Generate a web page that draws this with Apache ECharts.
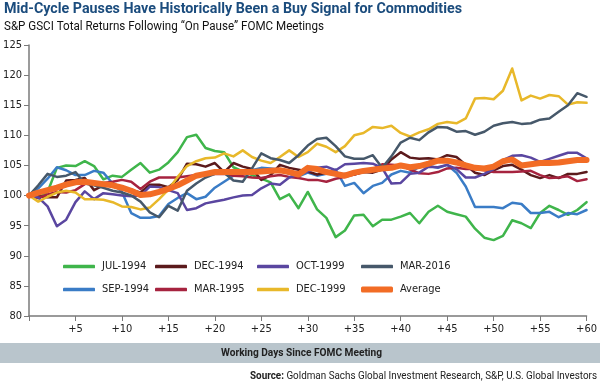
<!DOCTYPE html>
<html><head><meta charset="utf-8">
<script src="https://cdn.jsdelivr.net/npm/echarts@6/dist/echarts.min.js"></script>
<style>html,body{margin:0;padding:0;background:#fff}#c{width:600px;height:385px}</style>
</head><body><div id="c"></div>
<script>
const days = [0,1,2,3,4,5,6,7,8,9,10,11,12,13,14,15,16,17,18,19,20,21,22,23,24,25,26,27,28,29,30,31,32,33,34,35,36,37,38,39,40,41,42,43,44,45,46,47,48,49,50,51,52,53,54,55,56,57,58,59,60];
const xTicks = [5,10,15,20,25,30,35,40,45,50,55,60];
const yTicks = [80,85,90,95,100,105,110,115,120,125];

const jul1994 = [100,99.6,100.6,104.6,105.0,104.9,105.7,104.9,102.7,103.3,103.1,104.3,105.4,103.8,104.3,105.5,107.2,109.7,110.1,107.9,107.4,
  107.2,104.7,104.0,103.4,102.8,102.2,99.4,100.2,97.9,100.6,97.7,96.3,93.1,94.2,96.7,96.8,94.9,96.0,96.0,96.5,
  97.1,95.4,97.3,98.3,97.3,96.9,96.5,94.5,93.0,92.6,93.3,95.9,95.4,94.6,97.1,98.3,97.6,96.8,97.6,98.9];
const sep1994 = [100,101.2,102.8,104.7,104.2,103.4,103.4,104.1,103.8,102.0,100.6,97.1,96.3,96.3,96.6,98.6,99.6,100.4,99.4,99.8,101.3,
  102.3,103.3,103.7,104.2,104.6,104.5,104.3,103.6,103.2,103.8,103.3,103.6,104.3,101.6,102.1,100.4,101.6,102.1,103.5,104.1,
  103.8,104.8,104.9,104.6,105.1,103.8,101.5,98.1,98.1,98.1,97.9,98.8,98.6,97.1,97.1,97.3,96.4,97.1,96.9,97.6];
const dec1994 = [100,99.9,99.7,99.7,102.5,102.6,102.9,100.9,101.7,102.0,101.3,100.9,100.5,101.8,101.8,101.4,102.6,105.3,105.2,104.8,105.4,
  103.9,105.4,104.8,104.4,102.6,103.4,105.1,104.6,104.3,104.0,103.5,103.8,103.4,103.6,103.5,103.9,103.8,104.3,106.0,107.2,
  106.3,106.1,106.2,106.0,106.7,106.4,105.1,103.8,103.4,104.2,104.9,105.1,104.3,103.4,102.9,103.4,102.9,103.6,103.6,103.9];
const mar1995 = [100,99.6,100.2,100.6,100.5,100.9,101.9,102.2,102.1,102.3,102.6,102.3,101.1,102.3,103.0,103.0,103.0,103.2,103.4,103.5,103.6,
  103.6,103.3,103.2,103.0,102.9,103.2,103.4,103.1,102.9,102.6,102.6,102.3,102.8,103.1,103.5,104.0,104.4,105.2,105.1,105.0,
  104.3,103.7,103.6,103.9,104.5,104.6,104.4,104.4,104.2,103.9,103.9,103.9,104.0,104.1,103.4,102.9,103.0,103.2,102.4,102.7];
const oct1999 = [100,99.7,98.2,94.9,96.0,98.9,100.7,99.4,100.4,100.2,100.0,99.9,100.0,101.5,101.4,100.9,100.4,97.6,97.9,98.7,99.0,
  99.3,99.7,100.0,100.1,101.2,102.0,101.8,103.0,103.5,104.0,104.6,104.8,104.2,105.2,105.3,105.4,105.3,104.6,102.0,102.1,
  103.6,103.8,104.8,104.7,105.1,104.4,103.0,103.0,103.6,104.4,105.9,106.6,106.7,106.3,105.6,106.1,106.6,107.1,107.1,106.2];
const dec1999 = [100,99.0,99.8,100.5,100.8,100.5,99.4,99.4,99.3,98.9,98.2,98.1,97.7,98.0,99.4,101.0,103.1,104.9,105.7,106.2,106.3,
  107.0,106.5,107.5,106.4,105.8,105.4,106.4,107.5,106.4,107.2,108.6,108.1,107.2,108.2,110.0,110.4,111.4,111.2,111.6,110.4,
  109.8,110.5,111.0,111.9,112.2,112.0,112.8,116.1,116.2,116.0,117.4,121.1,115.8,116.6,116.1,116.7,116.5,115.1,115.5,115.4];
const mar2016 = [100,101.7,103.6,103.1,103.3,103.9,102.0,101.7,101.3,100.8,100.5,100.0,99.0,97.2,96.4,98.3,97.5,100.8,102.0,103.0,103.6,
  103.8,102.5,102.3,104.5,107.0,106.2,105.9,105.4,106.7,108.3,109.4,109.6,108.2,106.5,106.1,106.1,106.7,104.6,106.5,108.8,
  109.6,109.2,110.5,111.4,111.3,110.6,110.7,110.1,110.6,111.6,112.0,112.2,111.9,112.0,112.6,112.8,113.9,115.0,117.0,116.4];
const average = [100,100.5,100.9,101.3,101.8,102.2,102.3,102.1,101.9,101.7,101.3,100.8,100.1,100.2,100.6,101.1,101.7,102.5,103.3,103.6,103.9,
  103.9,103.9,103.9,103.9,104.0,104.1,104.2,103.9,103.5,104.6,104.4,103.9,103.6,103.3,103.8,104.1,104.3,104.5,104.6,105.0,
  104.7,104.9,105.3,105.8,105.8,105.5,105.0,104.6,104.5,104.8,105.7,106.0,105.0,105.2,105.4,105.4,105.5,105.7,105.9,105.9];

const seriesNames = ['JUL-1994','SEP-1994','DEC-1994','MAR-1995','OCT-1999','DEC-1999','MAR-2016','Average'];
const seriesData = [jul1994, sep1994, dec1994, mar1995, oct1999, dec1999, mar2016, average];
const colors = ['#3fb54b','#3a7cc6','#5b1a1c','#a6233f','#5a46a0','#e8b82a','#46586a','#f26c25'];

const titleText = 'Mid-Cycle Pauses Have Historically Been a Buy Signal for Commodities';
const subText = 'S&P GSCI Total Returns Following \u201cOn Pause\u201d FOMC Meetings';
const bandText = 'Working Days Since FOMC Meeting';
const srcLabel = 'Source:';
const srcText = ' Goldman Sachs Global Investment Research, S&P, U.S. Global Investors';

const FONT = "'DejaVu Sans Condensed',Roboto,sans-serif";
const TFONT = "Roboto,'DejaVu Sans',sans-serif";

// width measuring helper for condensed-looking text (layout only)
const mctx = document.createElement('canvas').getContext('2d');
function mw(font, s) { mctx.font = font; return mctx.measureText(s).width; }
const fTitle = 'bold 14.5px ' + TFONT;
const fSub = '12px ' + TFONT;
const fBand = 'bold 11px ' + TFONT;
const fSrcB = 'bold 11px ' + TFONT;
const fSrc = '11px ' + TFONT;
const sTitle = 458 / mw(fTitle, titleText);
const sSub = 320 / mw(fSub, subText);
const sBand = 161 / mw(fBand, bandText);
const sSrc = 347 / (mw(fSrcB, srcLabel) + mw(fSrc, srcText));

const legendPos = {
  'JUL-1994':[63,261],'DEC-1994':[155,261],'OCT-1999':[257,261],'MAR-2016':[361,261],
  'SEP-1994':[63,284],'MAR-1995':[155,284],'DEC-1999':[257,284],'Average':[361,284]
};
const legends = seriesNames.map((n) => ({
  data: [n], left: legendPos[n][0], top: legendPos[n][1],
  icon: 'roundRect', itemWidth: 32, itemHeight: n === 'Average' ? 6 : 3.5,
  padding: 0, selectedMode: false,
  textStyle: { fontFamily: FONT, fontSize: 11, color: '#222', padding: [0,0,0,2] }
}));

const chart = echarts.init(document.getElementById('c'), null, {renderer: 'canvas'});
chart.setOption({
  animation: false,
  color: colors,
  graphic: [
    { type: 'rect', shape: { x: 0, y: 343, width: 600, height: 20 }, style: { fill: '#b9c5cc' }, z: -1 },
    { type: 'text', x: 4, y: 9.5, scaleX: sTitle, style: { text: titleText, font: fTitle, fill: '#1b4c7d', align: 'left', verticalAlign: 'middle' } },
    { type: 'text', x: 4, y: 27, scaleX: sSub, style: { text: subText, font: fSub, fill: '#111', align: 'left', verticalAlign: 'middle' } },
    { type: 'text', x: 301.5, y: 353, scaleX: sBand, style: { text: bandText, font: fBand, fill: '#222', align: 'center', verticalAlign: 'middle' } },
    { type: 'text', x: 597, y: 376, scaleX: sSrc, style: { text: '{b|' + srcLabel + '}' + srcText, font: fSrc, fill: '#222', align: 'right', verticalAlign: 'middle',
        rich: { b: { font: fSrcB, fill: '#222' } } } }
  ],
  legend: legends,
  grid: { left: 29, right: 13, top: 45, bottom: 69, containLabel: false },
  xAxis: {
    type: 'value', min: 0, max: 60, interval: 5,
    axisLine: { show: true, lineStyle: { color: '#7a7a7a', width: 1.5 } },
    axisTick: { show: true, length: 5, lineStyle: { color: '#7a7a7a' } },
    splitLine: { show: false },
    axisLabel: { fontFamily: FONT, fontSize: 11, color: '#222', margin: 8,
      formatter: v => xTicks.indexOf(v) >= 0 ? '+' + v : '' }
  },
  yAxis: {
    type: 'value', min: 80, max: 125, interval: 5,
    axisLine: { show: true, lineStyle: { color: '#7a7a7a', width: 1.5 } },
    axisTick: { show: true, length: 5, lineStyle: { color: '#7a7a7a' } },
    splitLine: { show: false },
    axisLabel: { fontFamily: FONT, fontSize: 11, color: '#222', margin: 7,
      formatter: v => yTicks.indexOf(v) >= 0 ? String(v) : '' }
  },
  series: seriesNames.map((n, i) => ({
    name: n, type: 'line', showSymbol: false, symbol: 'none',
    data: days.map((d, k) => [d, seriesData[i][k]]),
    lineStyle: { width: n === 'Average' ? 6 : 2.5, color: colors[i], join: 'round', cap: 'round' },
    itemStyle: { color: colors[i] },
    z: n === 'Average' ? 5 : 2,
    emphasis: { disabled: true }
  }))
});
</script></body></html>
